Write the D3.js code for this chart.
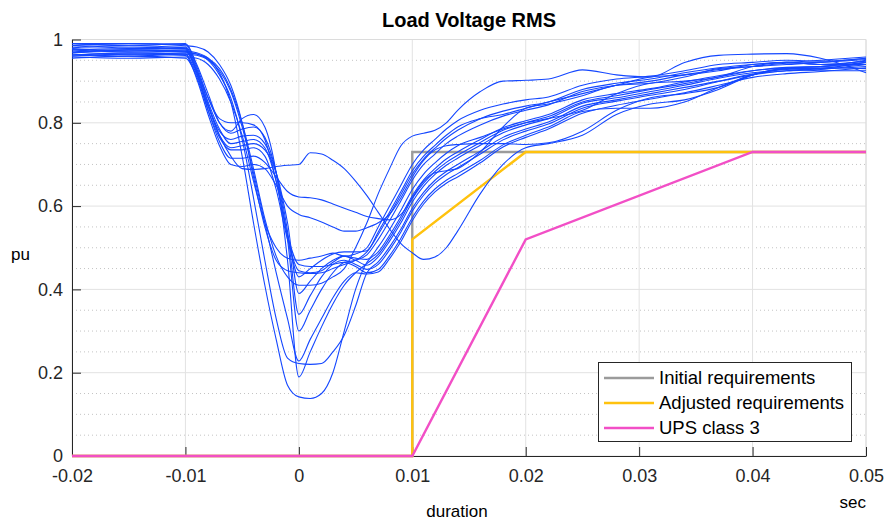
<!DOCTYPE html>
<html><head><meta charset="utf-8">
<script src="https://cdn.jsdelivr.net/npm/d3@7/dist/d3.min.js"></script>
<style>
html,body{margin:0;padding:0;background:#fff;}
text{font-family:"Liberation Sans",Arial,Helvetica,sans-serif;}
</style></head>
<body><svg id="chart" width="885" height="520"></svg>
<script>
// ---------------- data ----------------
const timeSec = [-0.02,-0.015,-0.01,-0.009,-0.008,-0.007,-0.006,-0.005,-0.004,-0.003,-0.002,-0.001,0,0.001,0.002,0.003,0.004,0.005,0.006,0.007,0.008,0.009,0.01,0.011,0.012,0.013,0.014,0.016,0.018,0.02,0.022,0.025,0.028,0.031,0.034,0.037,0.04,0.043,0.046,0.05];

const run01 = [0.975,0.97,0.972,0.968,0.955,0.92,0.85,0.72,0.56,0.41,0.28,0.17,0.142,0.138,0.15,0.20,0.30,0.40,0.465,0.49,0.53,0.575,0.625,0.663,0.69,0.713,0.73,0.76,0.788,0.805,0.82,0.855,0.87,0.882,0.898,0.913,0.925,0.932,0.935,0.95];
const run02 = [0.962,0.968,0.965,0.962,0.95,0.915,0.86,0.76,0.62,0.47,0.33,0.235,0.222,0.22,0.222,0.25,0.29,0.36,0.44,0.466,0.502,0.545,0.595,0.633,0.662,0.683,0.70,0.732,0.765,0.785,0.802,0.84,0.855,0.87,0.885,0.90,0.917,0.925,0.93,0.945];
const run03 = [0.985,0.99,0.985,0.982,0.97,0.94,0.89,0.80,0.67,0.55,0.47,0.445,0.44,0.438,0.44,0.45,0.46,0.47,0.49,0.532,0.579,0.628,0.677,0.713,0.739,0.763,0.782,0.81,0.828,0.84,0.85,0.88,0.895,0.905,0.92,0.932,0.94,0.945,0.94,0.94];
const run04 = [0.97,0.965,0.968,0.965,0.952,0.925,0.875,0.79,0.68,0.56,0.44,0.33,0.228,0.28,0.33,0.38,0.42,0.44,0.437,0.442,0.474,0.515,0.565,0.605,0.634,0.655,0.67,0.704,0.742,0.765,0.785,0.823,0.842,0.857,0.872,0.89,0.909,0.918,0.923,0.932];
const run05 = [0.958,0.955,0.958,0.955,0.94,0.905,0.85,0.77,0.66,0.56,0.50,0.475,0.47,0.475,0.48,0.487,0.48,0.485,0.50,0.55,0.60,0.65,0.70,0.735,0.76,0.785,0.805,0.83,0.845,0.855,0.862,0.89,0.905,0.912,0.925,0.94,0.945,0.95,0.948,0.955];
const run06 = [0.99,0.985,0.99,0.94,0.87,0.80,0.78,0.81,0.82,0.79,0.68,0.47,0.19,0.25,0.31,0.365,0.41,0.44,0.462,0.484,0.523,0.568,0.618,0.655,0.683,0.705,0.722,0.753,0.782,0.80,0.815,0.85,0.865,0.88,0.894,0.91,0.925,0.933,0.935,0.94];
const run07 = [0.98,0.985,0.98,0.925,0.86,0.80,0.775,0.785,0.79,0.765,0.68,0.52,0.30,0.35,0.40,0.44,0.465,0.47,0.483,0.52,0.565,0.613,0.662,0.70,0.725,0.75,0.768,0.795,0.816,0.83,0.843,0.875,0.89,0.90,0.915,0.928,0.935,0.943,0.945,0.952];
const run08 = [0.965,0.96,0.965,0.915,0.84,0.78,0.76,0.768,0.77,0.75,0.68,0.54,0.34,0.385,0.43,0.46,0.47,0.46,0.448,0.46,0.495,0.538,0.588,0.626,0.655,0.676,0.692,0.725,0.759,0.78,0.797,0.835,0.852,0.866,0.88,0.899,0.915,0.925,0.928,0.94];
const run09 = [0.97,0.975,0.972,0.92,0.84,0.77,0.74,0.745,0.75,0.735,0.68,0.56,0.39,0.42,0.45,0.47,0.48,0.475,0.472,0.502,0.544,0.59,0.64,0.677,0.704,0.727,0.745,0.765,0.785,0.80,0.81,0.83,0.87,0.895,0.90,0.91,0.935,0.945,0.94,0.948];
const run10 = [0.955,0.96,0.955,0.91,0.83,0.765,0.735,0.735,0.74,0.72,0.64,0.52,0.445,0.44,0.445,0.465,0.48,0.47,0.458,0.478,0.516,0.56,0.61,0.648,0.676,0.698,0.715,0.746,0.776,0.795,0.81,0.847,0.86,0.875,0.89,0.907,0.92,0.928,0.932,0.93];
const run11 = [0.978,0.972,0.975,0.92,0.83,0.755,0.715,0.715,0.72,0.705,0.67,0.635,0.622,0.62,0.615,0.605,0.595,0.585,0.575,0.57,0.567,0.58,0.62,0.66,0.68,0.685,0.69,0.73,0.79,0.835,0.845,0.865,0.89,0.895,0.91,0.93,0.935,0.94,0.945,0.955];
const run12 = [0.96,0.965,0.962,0.905,0.82,0.745,0.70,0.695,0.70,0.69,0.65,0.60,0.58,0.572,0.562,0.55,0.54,0.54,0.548,0.56,0.58,0.62,0.67,0.71,0.735,0.745,0.748,0.75,0.75,0.748,0.752,0.78,0.83,0.86,0.87,0.885,0.915,0.93,0.935,0.945];
const run13 = [0.985,0.98,0.982,0.93,0.845,0.77,0.72,0.69,0.688,0.69,0.695,0.698,0.70,0.728,0.725,0.71,0.69,0.66,0.625,0.585,0.545,0.51,0.488,0.472,0.478,0.50,0.54,0.63,0.70,0.74,0.75,0.77,0.82,0.845,0.855,0.88,0.915,0.93,0.925,0.925];
const run14 = [0.99,0.99,0.988,0.935,0.86,0.81,0.80,0.80,0.795,0.76,0.66,0.53,0.43,0.45,0.47,0.485,0.49,0.49,0.493,0.538,0.586,0.635,0.685,0.72,0.746,0.77,0.79,0.81,0.82,0.835,0.85,0.87,0.89,0.91,0.915,0.925,0.94,0.945,0.95,0.958];
const run15 = [0.975,0.978,0.978,0.925,0.85,0.785,0.75,0.755,0.76,0.74,0.66,0.53,0.46,0.455,0.455,0.46,0.465,0.455,0.44,0.448,0.481,0.523,0.572,0.612,0.641,0.662,0.678,0.71,0.747,0.77,0.79,0.827,0.835,0.835,0.85,0.885,0.915,0.93,0.93,0.935];
const run16 = [0.968,0.975,0.97,0.965,0.955,0.93,0.88,0.80,0.69,0.57,0.48,0.43,0.41,0.41,0.415,0.43,0.45,0.50,0.56,0.63,0.69,0.745,0.768,0.775,0.782,0.80,0.83,0.875,0.90,0.902,0.905,0.927,0.915,0.91,0.945,0.962,0.965,0.966,0.955,0.92];

const initialTime = [-0.02, 0.01, 0.01, 0.05];
const initialVal  = [0, 0, 0.73, 0.73];
const adjustedTime = [-0.02, 0.01, 0.01, 0.02, 0.05];
const adjustedVal  = [0, 0, 0.52, 0.73, 0.73];
const upsTime = [-0.02, 0.01, 0.02, 0.04, 0.05];
const upsVal  = [0, 0, 0.52, 0.73, 0.73];

const legendNames = ["Initial requirements", "Adjusted requirements", "UPS class 3"];
const xTicks = [-0.02,-0.01,0,0.01,0.02,0.03,0.04,0.05];
const xTickLabels = ["-0.02","-0.01","0","0.01","0.02","0.03","0.04","0.05"];
const yTicks = [0,0.2,0.4,0.6,0.8,1];
const yTickLabels = ["0","0.2","0.4","0.6","0.8","1"];
const yMinor = [0.05,0.1,0.15,0.25,0.3,0.35,0.45,0.5,0.55,0.65,0.7,0.75,0.85,0.9,0.95];

// ---------------- drawing ----------------
const runs = [run01,run02,run03,run04,run05,run06,run07,run08,run09,run10,run11,run12,run13,run14,run15,run16];
const svg = d3.select("#chart");
const L = 72, R = 866, T = 39.5, B = 456;
const x = d3.scaleLinear().domain([-0.02, 0.05]).range([L, R]);
const y = d3.scaleLinear().domain([0, 1]).range([B, T]);
const ink = "#262626";

svg.append("rect").attr("x",0).attr("y",0).attr("width",885).attr("height",520).attr("fill","#fff");

// minor dotted horizontal grid
svg.append("g").selectAll("line").data(yMinor).join("line")
  .attr("x1", L).attr("x2", R).attr("y1", d => y(d)).attr("y2", d => y(d))
  .attr("stroke", "#c4c4c4").attr("stroke-width", 1).attr("stroke-dasharray", "1,3");
// major grid
svg.append("g").selectAll("line").data(yTicks).join("line")
  .attr("x1", L).attr("x2", R).attr("y1", d => y(d)).attr("y2", d => y(d))
  .attr("stroke", "#e2e2e2").attr("stroke-width", 1);
svg.append("g").selectAll("line").data(xTicks).join("line")
  .attr("y1", T).attr("y2", B).attr("x1", d => x(d)).attr("x2", d => x(d))
  .attr("stroke", "#e2e2e2").attr("stroke-width", 1);

// box (light top/right)
svg.append("line").attr("x1",L).attr("x2",R).attr("y1",T).attr("y2",T).attr("stroke","#dcdcdc");
svg.append("line").attr("x1",R).attr("x2",R).attr("y1",T).attr("y2",B).attr("stroke","#dcdcdc");

// axes
const xAxis = d3.axisBottom(x).tickValues(xTicks).tickFormat((d,i) => xTickLabels[i])
  .tickSizeInner(-9).tickSizeOuter(0).tickPadding(13);
const gx = svg.append("g").attr("transform", `translate(0,${B})`).call(xAxis);
const yAxis = d3.axisLeft(y).tickValues(yTicks).tickFormat((d,i) => yTickLabels[i])
  .tickSizeInner(-9).tickSizeOuter(0).tickPadding(9);
const gy = svg.append("g").attr("transform", `translate(${L},0)`).call(yAxis);
[gx, gy].forEach(g => {
  g.select(".domain").attr("stroke", ink).attr("stroke-width", 1);
  g.selectAll(".tick line").attr("stroke", ink);
  g.selectAll(".tick text").attr("fill", ink).style("font-size","18px")
    .style("font-family",'"Liberation Sans",Arial,sans-serif');
});

// clip (a little room below the x axis so the zero line shows fully)
svg.append("defs").append("clipPath").attr("id","clip").append("rect")
  .attr("x", L).attr("y", T-2).attr("width", R-L+1).attr("height", B-T+5);
const plot = svg.append("g").attr("clip-path","url(#clip)");

const reqLine = d3.line().x(d => x(d[0])).y(d => y(d[1]));
const reqs = [
  {t: initialTime, v: initialVal, c: "#9b9b9b"},
  {t: adjustedTime, v: adjustedVal, c: "#ffc20e"},
  {t: upsTime, v: upsVal, c: "#f24fc6"}
];
reqs.forEach(r => {
  plot.append("path").datum(r.t.map((t,i) => [t, r.v[i]]))
    .attr("d", reqLine).attr("fill","none").attr("stroke", r.c).attr("stroke-width", 2.4)
    .attr("stroke-linejoin","miter");
});

const runLine = d3.line().x((d,i) => x(timeSec[i])).y(d => y(d)).curve(d3.curveMonotoneX);
plot.append("g").selectAll("path").data(runs).join("path")
  .attr("d", runLine).attr("fill","none").attr("stroke","#1447ff").attr("stroke-width",1.1);

// titles
svg.append("text").attr("x", 469).attr("y", 27).attr("text-anchor","middle")
  .style("font-size","20px").style("font-weight","bold").attr("fill","#000").text("Load Voltage RMS");
svg.append("text").attr("x", 11).attr("y", 260).style("font-size","17px").attr("fill","#000").text("pu");
svg.append("text").attr("x", 457).attr("y", 517).attr("text-anchor","middle").style("font-size","17px").attr("fill","#000").text("duration");
svg.append("text").attr("x", 866).attr("y", 508).attr("text-anchor","end").style("font-size","17px").attr("fill","#000").text("sec");

// legend
const lg = svg.append("g");
lg.append("rect").attr("x", 598.5).attr("y", 362.5).attr("width", 253).attr("height", 79)
  .attr("fill","#fff").attr("stroke", ink).attr("stroke-width", 1);
const ly = d3.scalePoint().domain(legendNames).range([378, 428]);
legendNames.forEach((n,i) => {
  lg.append("line").attr("x1", 604).attr("x2", 654).attr("y1", ly(n)).attr("y2", ly(n))
    .attr("stroke", reqs[i].c).attr("stroke-width", 2.4);
  lg.append("text").attr("x", 659).attr("y", ly(n)).attr("dy","0.35em")
    .style("font-size","18.5px").attr("fill","#000").text(n);
});
</script></body></html>
